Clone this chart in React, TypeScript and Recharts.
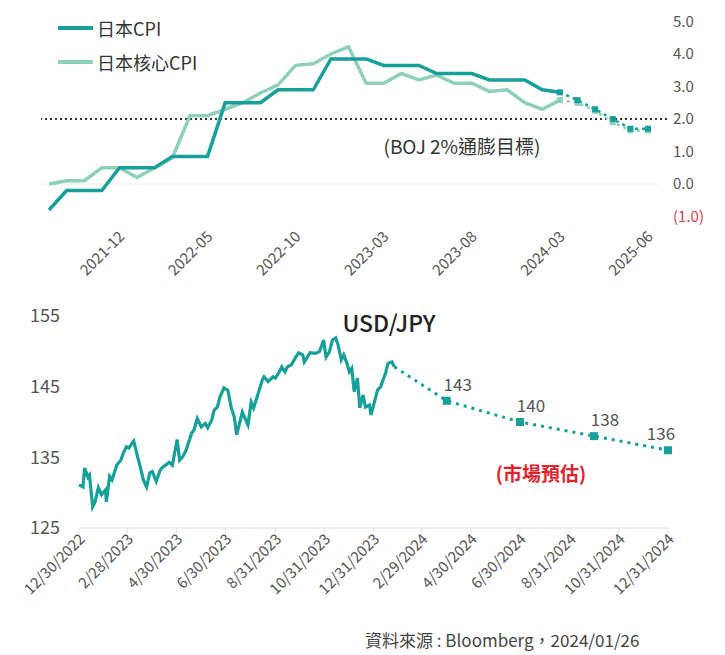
import React from "react";
import { LineChart, Line, XAxis, YAxis, ReferenceLine, LabelList } from "recharts";

const FONT = "'Noto Sans CJK TC', 'Noto Sans', sans-serif";
const DARK = "#17a09a";
const LIGHT = "#8fd0ba";
const TEXT = "#555";

// 上圖：日本 CPI (%)
const months = [
  "2021-08", "2021-09", "2021-10", "2021-11", "2021-12",
  "2022-01", "2022-02", "2022-03", "2022-04", "2022-05", "2022-06",
  "2022-07", "2022-08", "2022-09", "2022-10", "2022-11", "2022-12",
  "2023-01", "2023-02", "2023-03", "2023-04", "2023-05", "2023-06",
  "2023-07", "2023-08", "2023-09", "2023-10", "2023-11", "2023-12",
  "2024-03", "2024-06", "2024-09", "2024-12", "2025-03", "2025-06",
];
const cpi = [
  -0.8, -0.2, -0.2, -0.2, 0.5, 0.5, 0.5, 0.85, 0.85, 0.85,
  2.5, 2.5, 2.5, 2.9, 2.9, 2.9, 3.85, 3.85, 3.85, 3.65,
  3.65, 3.65, 3.4, 3.4, 3.4, 3.2, 3.2, 3.2, 2.9, 2.82,
];
const coreCpi = [
  0.0, 0.1, 0.1, 0.5, 0.5, 0.2, 0.5, 0.8, 2.1, 2.1,
  2.3, 2.5, 2.8, 3.05, 3.65, 3.7, 4.0, 4.22, 3.1, 3.1,
  3.4, 3.2, 3.35, 3.1, 3.1, 2.85, 2.9, 2.5, 2.3, 2.58,
];
const cpiForecast = [2.82, 2.58, 2.3, 2.0, 1.7, 1.7];
const coreForecast = [2.58, 2.5, 2.25, 1.9, 1.65, 1.65];
const monthTicks = ["2021-12", "2022-05", "2022-10", "2023-03", "2023-08", "2024-03", "2025-06"];
const cpiTicks = [-1, 0, 1, 2, 3, 4, 5];

// 下圖：USD/JPY
const fxDates = [
  "2022-12-30", "2023-01-04", "2023-01-06", "2023-01-10", "2023-01-12", "2023-01-16",
  "2023-01-19", "2023-01-23", "2023-01-27", "2023-02-01", "2023-02-02", "2023-02-06",
  "2023-02-09", "2023-02-15", "2023-02-20", "2023-02-23", "2023-02-27", "2023-03-02",
  "2023-03-06", "2023-03-08", "2023-03-13", "2023-03-16", "2023-03-20", "2023-03-24",
  "2023-03-28", "2023-03-31", "2023-04-05", "2023-04-10", "2023-04-13", "2023-04-18",
  "2023-04-21", "2023-04-25", "2023-05-01", "2023-05-04", "2023-05-08", "2023-05-12",
  "2023-05-19", "2023-05-22", "2023-05-26", "2023-05-31", "2023-06-05", "2023-06-08",
  "2023-06-13", "2023-06-16", "2023-06-20", "2023-06-23", "2023-06-28", "2023-07-03",
  "2023-07-07", "2023-07-11", "2023-07-14", "2023-07-21", "2023-07-24", "2023-07-28",
  "2023-08-01", "2023-08-04", "2023-08-09", "2023-08-15", "2023-08-17", "2023-08-22",
  "2023-08-28", "2023-08-31", "2023-09-04", "2023-09-08", "2023-09-12", "2023-09-15",
  "2023-09-20", "2023-09-25", "2023-09-29", "2023-10-04", "2023-10-06", "2023-10-10",
  "2023-10-13", "2023-10-20", "2023-10-25", "2023-10-30", "2023-11-02", "2023-11-06",
  "2023-11-10", "2023-11-14", "2023-11-17", "2023-11-21", "2023-11-24", "2023-11-28",
  "2023-12-01", "2023-12-04", "2023-12-07", "2023-12-11", "2023-12-14", "2023-12-18",
  "2023-12-21", "2023-12-26", "2023-12-28", "2024-01-05", "2024-01-09", "2024-01-11",
  "2024-01-15", "2024-01-18", "2024-01-23", "2024-01-26",
];
const fxValues = [
  131.1, 130.8, 133.5, 132.2, 132.5, 128.0,
  128.7, 130.7, 129.7, 130.4, 128.7, 132.3,
  131.8, 133.9, 134.6, 135.6, 136.5, 136.3,
  137.0, 137.3, 135.0, 133.7, 131.8, 130.8,
  132.8, 133.0, 131.6, 133.2, 133.6, 134.0,
  134.3, 133.9, 137.5, 134.6, 135.1, 136.0,
  138.4, 138.9, 140.5, 139.3, 139.8, 139.2,
  140.3, 141.7, 142.1, 143.5, 144.8, 144.5,
  142.1, 140.7, 138.2, 141.4, 140.6, 139.6,
  142.8, 142.0, 143.8, 146.0, 146.4, 145.7,
  146.4, 146.2, 146.9, 147.8, 147.1, 147.8,
  148.1, 149.1, 149.8, 149.5, 148.5, 149.2,
  149.8, 149.7, 150.0, 151.6, 149.2, 149.9,
  151.6, 151.9, 150.9, 148.8, 149.5, 148.3,
  147.1, 147.6, 144.3, 146.2, 142.0, 143.8,
  142.1, 142.4, 141.0, 144.5, 145.0, 145.7,
  146.9, 148.3, 148.5, 147.8,
];
const fxForecastDates = ["2024-01-26", "2024-03-31", "2024-06-30", "2024-09-30", "2024-12-31"];
const fxForecastValues = [147.8, 143, 140, 138, 136];
const fxTickDates = [
  "2022-12-30", "2023-02-28", "2023-04-30", "2023-06-30", "2023-08-31", "2023-10-31",
  "2023-12-31", "2024-02-29", "2024-04-30", "2024-06-30", "2024-08-31", "2024-10-31",
  "2024-12-31",
];
const fxTicks = [125, 135, 145, 155];

const toTime = (s: string) => {
  const [y, m, d] = s.split("-").map(Number);
  return Date.UTC(y, m - 1, d);
};

const fmtDate = (t: number) => {
  const d = new Date(t);
  return `${d.getUTCMonth() + 1}/${d.getUTCDate()}/${d.getUTCFullYear()}`;
};

const fcStart = cpi.length - 1;
const cpiRows = months.map((m, i) => ({
  month: m,
  cpi: i < cpi.length ? cpi[i] : null,
  core: i < coreCpi.length ? coreCpi[i] : null,
  cpiF: i >= fcStart ? cpiForecast[i - fcStart] : null,
  coreF: i >= fcStart ? coreForecast[i - fcStart] : null,
}));

const fxRows: any[] = fxDates.map((d, i) => ({ t: toTime(d), fx: fxValues[i], fxF: null as number | null }));
fxForecastDates.forEach((d, i) => {
  const t = toTime(d);
  const row = fxRows.find((r) => r.t === t);
  if (row) row.fxF = fxForecastValues[i];
  else fxRows.push({ t, fx: null, fxF: fxForecastValues[i] });
});

const fxTickTimes = fxTickDates.map(toTime);

const CpiYTick = ({ x, y, payload }: any) => {
  const v = payload.value;
  return (
    <text x={x + 14} y={y} dy={5} fontSize={15} fontFamily={FONT} fill={v < 0 ? "#d8434c" : TEXT}>
      {v < 0 ? `(${Math.abs(v).toFixed(1)})` : v.toFixed(1)}
    </text>
  );
};

const MonthTick = ({ x, y, payload }: any) => (
  <text
    x={x + 6}
    y={y + 21}
    transform={`rotate(-45 ${x + 6} ${y + 21})`}
    textAnchor="end"
    fontSize={15}
    fontFamily={FONT}
    fill={TEXT}
  >
    {payload.value}
  </text>
);

const DateTick = ({ x, y, payload }: any) => (
  <text
    x={x + 7}
    y={y + 7}
    transform={`rotate(-45 ${x + 7} ${y + 7})`}
    textAnchor="end"
    fontSize={15}
    fontFamily={FONT}
    fill={TEXT}
  >
    {fmtDate(payload.value)}
  </text>
);

const square = (color: string, size: number) => (props: any) => {
  const { cx, cy, index } = props;
  if (cx == null || cy == null || props.value == null) return <g key={`s-${index}`} />;
  return <rect key={`s-${index}`} x={cx - size / 2} y={cy - size / 2} width={size} height={size} fill={color} />;
};

const fxSquare = (props: any) => {
  const { cx, cy, index, payload } = props;
  if (payload.fxF == null || payload.fx != null) return <g key={`f-${index}`} />;
  return <rect key={`f-${index}`} x={cx - 4} y={cy - 4} width={8} height={8} fill={DARK} />;
};

const FxLabel = (props: any) => {
  const { x, y, value, index } = props;
  if (index < fxDates.length || value == null) return null;
  const last = index === fxRows.length - 1;
  return (
    <text x={x + (last ? -7 : 11)} y={y - 10} textAnchor="middle" fontSize={17} fontFamily={FONT} fill={TEXT}>
      {value}
    </text>
  );
};

const Legend = () => (
  <div style={{ position: "absolute", left: 58, top: 14, fontFamily: FONT, fontSize: 18, color: "#333" }}>
    {[
      { name: "日本CPI", color: DARK },
      { name: "日本核心CPI", color: LIGHT },
    ].map((s, i) => (
      <div key={s.name} style={{ display: "flex", alignItems: "center", height: 28, marginBottom: i === 0 ? 6 : 0 }}>
        <span style={{ width: 35, height: 4, background: s.color, display: "inline-block", marginRight: 4 }} />
        <span>{s.name}</span>
      </div>
    ))}
  </div>
);

export default function App() {
  return (
    <div style={{ position: "absolute", left: 0, top: 0, width: 725, height: 655, background: "#fff", fontFamily: FONT }}>
      <div style={{ position: "absolute", left: 0, top: 0 }}>
        <LineChart width={725} height={290} data={cpiRows} margin={{ top: 21.5, right: 16, left: 41, bottom: 13.5 }}>
          <XAxis
            dataKey="month"
            ticks={monthTicks}
            interval={0}
            axisLine={false}
            tickLine={false}
            tickSize={0}
            tickMargin={0}
            height={60}
            padding={{ left: 8, right: 11 }}
            tick={<MonthTick />}
          />
          <YAxis
            orientation="right"
            domain={[-1, 5]}
            ticks={cpiTicks}
            axisLine={false}
            tickLine={false}
            tickSize={0}
            tickMargin={0}
            width={50}
            tick={<CpiYTick />}
          />
          <ReferenceLine y={0} stroke="#ececec" strokeWidth={1} />
          <ReferenceLine
            y={2}
            shape={(p: any) => (
              <line x1={p.x1 + 8} y1={p.y1} x2={p.x2} y2={p.y2} stroke="#333" strokeWidth={2} strokeDasharray="2 3" />
            )}
          />
          <Line type="linear" dataKey="core" stroke={LIGHT} strokeWidth={3.5} dot={false} isAnimationActive={false} />
          <Line type="linear" dataKey="cpi" stroke={DARK} strokeWidth={3.5} dot={false} isAnimationActive={false} />
          <Line
            type="linear"
            dataKey="coreF"
            stroke={LIGHT}
            strokeWidth={2.5}
            strokeDasharray="3 4"
            dot={square(LIGHT, 6)}
            isAnimationActive={false}
          />
          <Line
            type="linear"
            dataKey="cpiF"
            stroke={DARK}
            strokeWidth={2.5}
            strokeDasharray="3 4"
            dot={square(DARK, 6)}
            isAnimationActive={false}
          />
        </LineChart>
      </div>
      <Legend />
      <div
        style={{
          position: "absolute",
          left: 462,
          top: 145,
          transform: "translate(-50%, -50%)",
          fontSize: 19,
          color: "#333",
          whiteSpace: "nowrap",
        }}
      >
        (BOJ 2%通膨目標)
      </div>

      <div style={{ position: "absolute", left: 0, top: 290 }}>
        <LineChart width={725} height={365} data={fxRows} margin={{ top: 26, right: 57, left: 24, bottom: 47 }}>
          <XAxis
            dataKey="t"
            type="number"
            domain={[fxTickTimes[0], fxTickTimes[fxTickTimes.length - 1]]}
            ticks={fxTickTimes}
            interval={0}
            axisLine={{ stroke: "#dedede" }}
            tickLine={{ stroke: "#dedede" }}
            tickSize={5}
            tickMargin={0}
            height={80}
            tick={<DateTick />}
          />
          <YAxis
            domain={[125, 155]}
            ticks={fxTicks}
            axisLine={false}
            tickLine={false}
            tickSize={0}
            tickMargin={19}
            width={55}
            tick={{ fontSize: 18, fill: TEXT, fontFamily: FONT }}
          />
          <Line type="linear" dataKey="fx" stroke={DARK} strokeWidth={3.2} dot={false} isAnimationActive={false} />
          <Line
            type="linear"
            dataKey="fxF"
            stroke={DARK}
            strokeWidth={3}
            strokeDasharray="3 5"
            dot={fxSquare}
            isAnimationActive={false}
          >
            <LabelList dataKey="fxF" content={<FxLabel />} />
          </Line>
        </LineChart>
      </div>
      <div
        style={{
          position: "absolute",
          left: 389,
          top: 322,
          transform: "translate(-50%, -50%)",
          fontSize: 23,
          fontWeight: 500,
          color: "#222",
        }}
      >
        USD/JPY
      </div>
      <div
        style={{
          position: "absolute",
          left: 541,
          top: 472,
          transform: "translate(-50%, -50%)",
          fontSize: 19,
          fontWeight: 700,
          color: "#e3232b",
          whiteSpace: "nowrap",
        }}
      >
        (市場預估)
      </div>
      <div
        style={{
          position: "absolute",
          left: 365,
          top: 627,
          fontSize: 17,
          color: "#444",
          whiteSpace: "nowrap",
        }}
      >
        資料來源 : Bloomberg，2024/01/26
      </div>
    </div>
  );
}
